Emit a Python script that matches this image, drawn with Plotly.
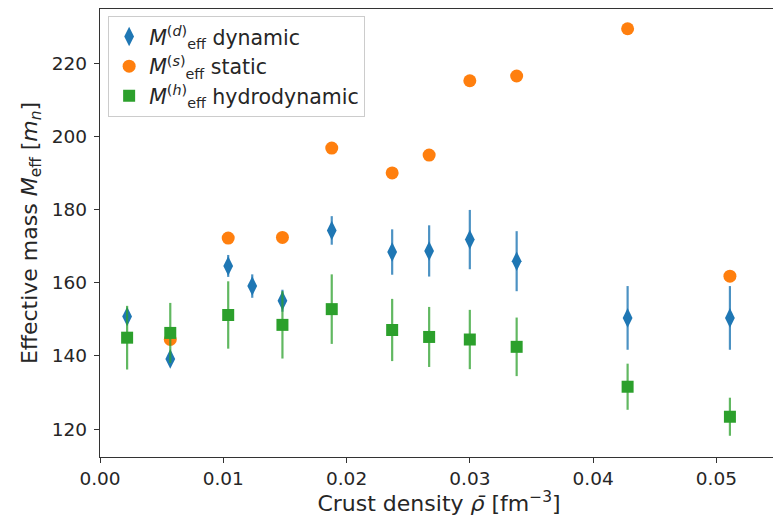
import plotly.graph_objects as go

# Dynamic effective mass
x_dyn = [0.0022, 0.0057, 0.0104, 0.01235, 0.0148, 0.0188, 0.0237, 0.0267, 0.0300, 0.0338, 0.0428, 0.0511]
y_dyn = [150.8, 139.2, 164.6, 159.1, 155.1, 174.3, 168.4, 168.7, 171.8, 165.9, 150.4, 150.4]
e_dyn = [1.5, 1.2, 3.0, 3.2, 3.0, 3.9, 6.2, 7.0, 8.1, 8.2, 8.7, 8.7]

# Static effective mass
x_sta = [0.0057, 0.0104, 0.0148, 0.0188, 0.0237, 0.0267, 0.0300, 0.0338, 0.0428, 0.0511]
y_sta = [144.5, 172.2, 172.4, 196.8, 190.0, 194.9, 215.2, 216.5, 229.4, 161.8]

# Hydrodynamic effective mass
x_hyd = [0.0022, 0.0057, 0.0104, 0.0148, 0.0188, 0.0237, 0.0267, 0.0300, 0.0338, 0.0428, 0.0511]
y_hyd = [145.0, 146.3, 151.2, 148.5, 152.8, 147.1, 145.2, 144.5, 142.5, 131.6, 123.4]
e_hyd = [8.7, 8.2, 9.2, 9.2, 9.5, 8.5, 8.2, 8.1, 8.0, 6.3, 5.2]

x_ticks = [0.00, 0.01, 0.02, 0.03, 0.04, 0.05]
y_ticks = [120, 140, 160, 180, 200, 220]

BLUE = "#1f77b4"
ORANGE = "#ff7f0e"
GREEN = "#2ca02c"
FONT = "DejaVu Sans"
TXT = "#262626"

fig = go.Figure()
fig.add_trace(go.Scatter(
    x=x_dyn, y=y_dyn, mode="markers",
    name="<i>M</i><sup>(<i>d</i>)</sup><sub>eff</sub> dynamic",
    marker=dict(symbol="diamond-tall", size=14, color=BLUE),
    error_y=dict(type="data", array=e_dyn, visible=True, width=0,
                 thickness=2.2, color="rgba(31,119,180,0.8)"),
))
fig.add_trace(go.Scatter(
    x=x_sta, y=y_sta, mode="markers",
    name="<i>M</i><sup>(<i>s</i>)</sup><sub>eff</sub> static",
    marker=dict(symbol="circle", size=13, color=ORANGE),
))
fig.add_trace(go.Scatter(
    x=x_hyd, y=y_hyd, mode="markers",
    name="<i>M</i><sup>(<i>h</i>)</sup><sub>eff</sub> hydrodynamic",
    marker=dict(symbol="square", size=12, color=GREEN),
    error_y=dict(type="data", array=e_hyd, visible=True, width=0,
                 thickness=2.2, color="rgba(44,160,44,0.75)"),
))

axis_common = dict(
    showline=True, linecolor="#333", linewidth=1.4, mirror=True,
    ticks="outside", ticklen=5, tickcolor="#333", tickwidth=1.4,
    showgrid=False, zeroline=False,
    tickfont=dict(family=FONT, size=18.5, color=TXT),
)

fig.update_layout(
    width=773, height=508,
    margin=dict(l=92, r=3, t=1, b=59),
    paper_bgcolor="white", plot_bgcolor="white",
    font=dict(family=FONT, size=18, color=TXT),
    showlegend=True,
    legend=dict(
        x=0.012, y=0.985, xanchor="left", yanchor="top",
        bgcolor="rgba(255,255,255,0.8)", bordercolor="#cccccc", borderwidth=1,
        font=dict(family=FONT, size=20.5, color=TXT),
    ),
    xaxis=dict(
        range=[0, 0.055], tickvals=x_ticks,
        ticktext=[f"{v:.2f}" for v in x_ticks],
        title=dict(text="Crust density <i>ρ̄</i> [fm<sup>−3</sup>]",
                   font=dict(family=FONT, size=22, color=TXT), standoff=2),
        **axis_common,
    ),
    yaxis=dict(
        range=[112.4, 234.8], tickvals=y_ticks,
        ticklabelstandoff=3,
        title=dict(text="Effective mass <i>M</i><sub>eff</sub> [<i>m</i><sub><i>n</i></sub>]",
                   font=dict(family=FONT, size=22, color=TXT), standoff=8),
        **axis_common,
    ),
)

fig.write_html("out.html")
